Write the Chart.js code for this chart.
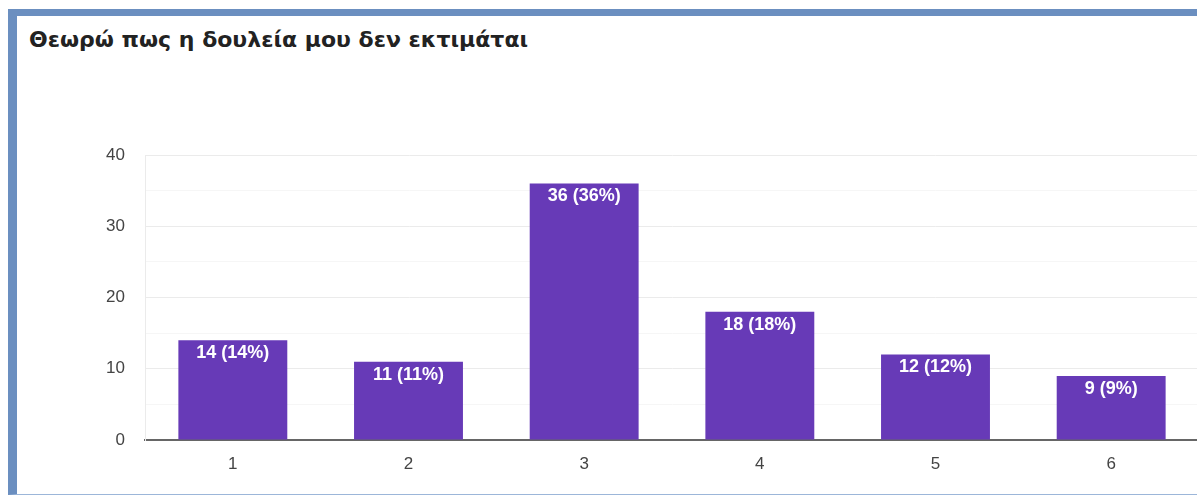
<!DOCTYPE html>
<html>
<head>
<meta charset="utf-8">
<script src="https://cdn.jsdelivr.net/npm/chart.js@4"></script>
<style>
  html, body { margin: 0; padding: 0; background: #ffffff; width: 1197px; height: 497px; overflow: hidden; }
  #frame { position: absolute; left: 8px; top: 9px; width: 1200px; height: 478px;
           border-top: 7px solid #6b8fc0; border-left: 9px solid #6b8fc0; border-bottom: 1px solid #9cb6d9; }
  #title { position: absolute; left: 29px; top: 27px; font-family: "DejaVu Sans", sans-serif;
           font-weight: bold; font-size: 22px; color: #222222; white-space: nowrap; }
  #wrap { position: absolute; left: 0; top: 0; width: 1205px; height: 497px; }
  #c { display: block; }
</style>
</head>
<body>
<div id="frame"></div>
<div id="title">Θεωρώ πως η δουλεία μου δεν εκτιμάται</div>
<div id="wrap"><canvas id="c" width="1205" height="497"></canvas></div>
<script>
const categories = ["1", "2", "3", "4", "5", "6"];
const counts = [14, 11, 36, 18, 12, 9];
const percents = [14, 11, 36, 18, 12, 9];
const yTickLabels = [0, 10, 20, 30, 40];

const barLabels = {
  id: 'barLabels',
  afterDatasetsDraw(chart) {
    const ctx = chart.ctx;
    const meta = chart.getDatasetMeta(0);
    ctx.save();
    ctx.fillStyle = '#ffffff';
    ctx.font = 'bold 18px "Liberation Sans", Arial, sans-serif';
    ctx.textAlign = 'center';
    ctx.textBaseline = 'middle';
    meta.data.forEach((bar, i) => {
      ctx.fillText(counts[i] + ' (' + percents[i] + '%)', bar.x, bar.y + 13);
    });
    ctx.restore();
  }
};

new Chart(document.getElementById('c'), {
  type: 'bar',
  data: {
    labels: categories,
    datasets: [{
      data: counts,
      backgroundColor: '#673ab7',
      borderWidth: 0,
      categoryPercentage: 0.62,
      barPercentage: 1.0
    }]
  },
  options: {
    responsive: false,
    animation: false,
    devicePixelRatio: 1,
    layout: { padding: { top: 155, right: 6, left: 0, bottom: 0 } },
    plugins: { legend: { display: false }, tooltip: { enabled: false }, title: { display: false } },
    scales: {
      x: {
        grid: { display: false, drawTicks: false },
        border: { display: true, color: '#666666', width: 2 },
        ticks: { color: '#444444', font: { family: '"Liberation Sans", Arial, sans-serif', size: 17 }, padding: 14 },
        afterFit(scale) { scale.height = 57; }
      },
      y: {
        min: 0, max: 40,
        grid: {
          drawTicks: false,
          color(ctx) { return (ctx.tick && ctx.tick.value % 10 === 0) ? '#ebebeb' : '#f6f6f6'; },
          lineWidth: 1
        },
        border: { display: true, color: '#ebebeb', width: 1 },
        ticks: {
          stepSize: 5,
          color: '#444444',
          font: { family: '"Liberation Sans", Arial, sans-serif', size: 17 },
          padding: 20,
          callback(v) { return yTickLabels.includes(v) ? String(v) : ''; }
        },
        afterFit(scale) { scale.width = 145; }
      }
    }
  },
  plugins: [barLabels]
});
</script>
</body>
</html>
